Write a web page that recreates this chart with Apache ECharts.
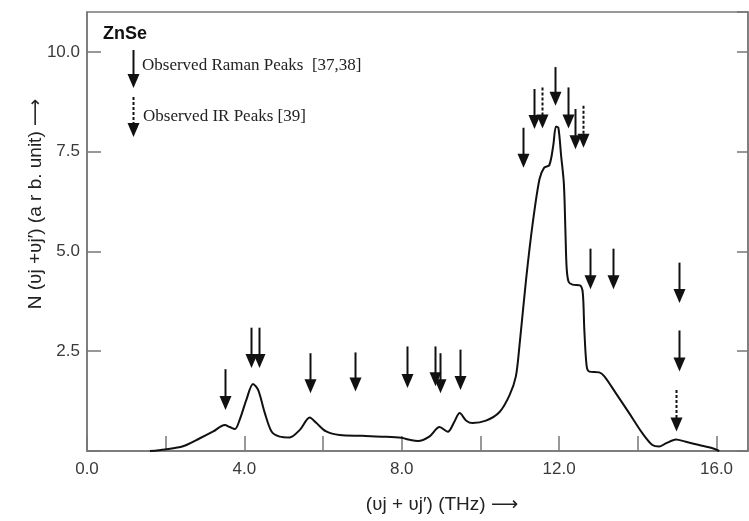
<!DOCTYPE html>
<html>
<head>
<meta charset="utf-8">
<title>ZnSe</title>
<script type="text/javascript" src="https://cdn.jsdelivr.net/npm/echarts@6/dist/echarts.min.js"></script>
<style type="text/css">
	html, body{
		margin: 0;
		padding: 0;
		background: #fff;
	}
	#chart_box{
		width: 749px;
		height: 521px;
	}
</style>
</head>
<body>
<div id="chart_box"></div>

<script type="text/javascript">
	// curve: frequency (THz), N (arb. unit)
	var freq = [1.6, 1.98, 2.44, 2.87, 3.21, 3.5, 3.63, 3.76, 3.88, 4.05, 4.22, 4.35, 4.52, 4.69, 4.9, 5.15, 5.41, 5.66, 5.83, 6.08, 6.42, 7.0, 7.5, 7.99, 8.2, 8.41, 8.7, 8.96, 9.17, 9.34, 9.47, 9.64, 9.8, 10.14, 10.48, 10.74, 10.9, 10.99, 11.16, 11.33, 11.5, 11.62, 11.75, 11.85, 11.92, 11.98, 12.05, 12.12, 12.16, 12.19, 12.24, 12.34, 12.53, 12.6, 12.64, 12.7, 12.77, 13.02, 13.15, 13.44, 13.78, 14.12, 14.37, 14.54, 14.71, 14.97, 15.22, 15.56, 15.9, 16.07];
	var density = [0, 0.04, 0.12, 0.32, 0.49, 0.65, 0.6, 0.55, 0.78, 1.28, 1.68, 1.53, 0.95, 0.49, 0.36, 0.34, 0.53, 0.84, 0.7, 0.49, 0.4, 0.38, 0.36, 0.33, 0.28, 0.25, 0.36, 0.6, 0.48, 0.74, 0.95, 0.76, 0.7, 0.76, 0.97, 1.4, 1.87, 2.62, 4.3, 5.72, 6.81, 7.1, 7.16, 7.65, 8.13, 8.1, 7.4, 6.7, 5.5, 4.6, 4.24, 4.17, 4.15, 3.97, 3.04, 2.12, 1.99, 1.97, 1.87, 1.45, 0.95, 0.44, 0.15, 0.11, 0.19, 0.29, 0.23, 0.15, 0.07, 0];

	// observed peaks: position, arrow top, arrow tip
	var ramanX = [3.5, 4.16, 4.37, 5.66, 6.82, 8.14, 8.84, 8.98, 9.47, 11.07, 11.35, 11.9, 12.22, 12.41, 12.79, 13.36, 15.05, 15.05];
	var ramanTop = [2.05, 3.09, 3.09, 2.45, 2.47, 2.62, 2.62, 2.45, 2.54, 8.1, 9.07, 9.62, 9.11, 8.57, 5.07, 5.07, 4.72, 3.02];
	var ramanTip = [1.03, 2.08, 2.08, 1.45, 1.49, 1.58, 1.62, 1.45, 1.53, 7.1, 8.07, 8.65, 8.08, 7.56, 4.05, 4.05, 3.71, 1.99];
	var irX = [11.57, 12.61, 14.97];
	var irTop = [9.11, 8.65, 1.53];
	var irTip = [8.08, 7.6, 0.49];

	var xTicks = ['0.0', '4.0', '8.0', '12.0', '16.0'];
	var yTicks = ['2.5', '5.0', '7.5', '10.0'];

	var myChart = echarts.init(document.getElementById('chart_box'));

	function zip3(a, b, c) {
		return a.map(function(v, i) { return [v, b[i], c[i]]; });
	}

	function arrowShapes(x, yTop, yTip, dashed) {
		var headH = 14, headW = 6;
		return [
			{
				type: 'line',
				shape: {x1: x, y1: yTop, x2: x, y2: yTip - headH + 2},
				style: {stroke: '#111', lineWidth: 2, lineDash: dashed ? [3, 2] : null}
			},
			{
				type: 'polygon',
				shape: {points: [[x - headW, yTip - headH], [x + headW, yTip - headH], [x, yTip]]},
				style: {fill: '#111'}
			}
		];
	}

	function arrowSeries(name, data, dashed) {
		return {
			name: name,
			type: 'custom',
			silent: true,
			encode: {x: 0, y: [1, 2]},
			data: data,
			renderItem: function(params, api) {
				var p1 = api.coord([api.value(0), api.value(1)]);
				var p2 = api.coord([api.value(0), api.value(2)]);
				return {
					type: 'group',
					children: arrowShapes(Math.round(p1[0]) + 0.5, p1[1], p2[1], dashed)
				};
			}
		};
	}

	var axisColor = '#777';
	var labelFont = {color: '#3a3a3a', fontSize: 17, fontFamily: 'Liberation Sans, Arial, sans-serif'};
	var titleFont = '19px "Liberation Sans", Arial, "DejaVu Sans", sans-serif';

	var option = {
		animation: false,
		grid: {
			left: 87,
			right: 1,
			top: 12,
			bottom: 70,
			show: true,
			borderColor: axisColor,
			borderWidth: 1.5
		},
		xAxis: {
			type: 'value',
			min: 0,
			max: 16.8,
			interval: 2,
			splitLine: {show: false},
			axisLine: {lineStyle: {color: axisColor, width: 1.5}},
			axisTick: {inside: true, length: 15, lineStyle: {color: axisColor, width: 1.5}},
			axisLabel: {
				margin: 10,
				color: labelFont.color,
				fontSize: labelFont.fontSize,
				fontFamily: labelFont.fontFamily,
				showMaxLabel: false,
				formatter: function(v) {
					var s = v.toFixed(1);
					return xTicks.indexOf(s) >= 0 ? s : '';
				}
			}
		},
		yAxis: [
			{
				type: 'value',
				min: 0,
				max: 11,
				interval: 2.5,
				splitLine: {show: false},
				axisLine: {show: true, lineStyle: {color: axisColor, width: 1.5}},
				axisTick: {show: true, inside: true, length: 14, lineStyle: {color: axisColor, width: 1.5}},
				axisLabel: {
					margin: 7,
					color: labelFont.color,
					fontSize: labelFont.fontSize,
					fontFamily: labelFont.fontFamily,
					showMaxLabel: false,
					formatter: function(v) {
						var s = v.toFixed(1);
						return yTicks.indexOf(s) >= 0 ? s : '';
					}
				}
			},
			{
				type: 'value',
				position: 'right',
				min: 0,
				max: 11,
				interval: 2.5,
				splitLine: {show: false},
				axisLine: {show: true, lineStyle: {color: axisColor, width: 1.5}},
				axisTick: {show: true, inside: true, length: 11, lineStyle: {color: axisColor, width: 1.5}},
				axisLabel: {show: false}
			}
		],
		graphic: [
			{
				type: 'text',
				left: 103,
				top: 25,
				style: {text: 'ZnSe', font: 'bold 18px "Liberation Sans", Arial, sans-serif', fill: '#111'}
			},
			{
				type: 'group',
				children: arrowShapes(133.5, 50, 88, false)
			},
			{
				type: 'group',
				children: arrowShapes(133.5, 97, 137, true)
			},
			{
				type: 'text',
				x: 142,
				y: 66,
				style: {text: 'Observed Raman Peaks  [37,38]', font: '17px "Liberation Serif", "Times New Roman", serif', fill: '#222', verticalAlign: 'middle'}
			},
			{
				type: 'text',
				x: 143,
				y: 117,
				style: {text: 'Observed IR Peaks [39]', font: '17px "Liberation Serif", "Times New Roman", serif', fill: '#222', verticalAlign: 'middle'}
			},
			{
				type: 'text',
				x: 36,
				y: 204,
				rotation: Math.PI / 2,
				style: {text: 'N (ʋj +ʋj′) (a r b. unit) ⟶', font: titleFont, fill: '#222', align: 'center', verticalAlign: 'middle'}
			},
			{
				type: 'text',
				x: 442,
				y: 505,
				style: {text: '(ʋj + ʋj′) (THz) ⟶', font: titleFont, fill: '#222', align: 'center', verticalAlign: 'middle'}
			}
		],
		series: [
			{
				name: 'N',
				type: 'line',
				smooth: 0.3,
				showSymbol: false,
				lineStyle: {color: '#111', width: 2},
				data: freq.map(function(f, i) { return [f, density[i]]; })
			},
			arrowSeries('Observed Raman Peaks', zip3(ramanX, ramanTop, ramanTip), false),
			arrowSeries('Observed IR Peaks', zip3(irX, irTop, irTip), true)
		]
	};
	myChart.setOption(option);
</script>
</body>
</html>
